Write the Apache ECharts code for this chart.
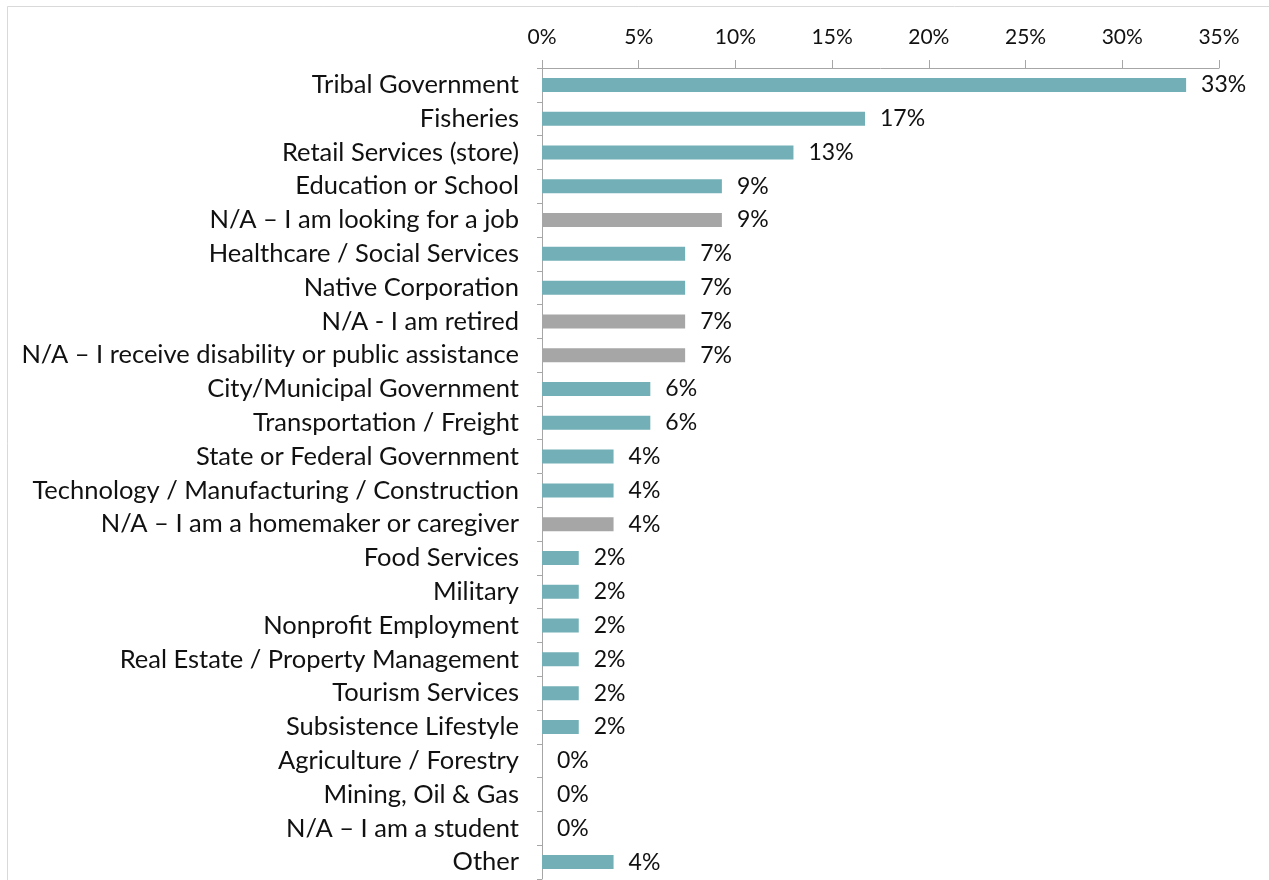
<!DOCTYPE html>
<html>
<head>
<meta charset="utf-8">
<script src="https://cdn.jsdelivr.net/npm/echarts@6/dist/echarts.min.js"></script>
<style>
html,body{margin:0;padding:0;background:#fff;}
#chart{width:1269px;height:880px;}
</style>
</head>
<body>
<div id="chart"></div>
<script>
const categories = [
  "Tribal Government",
  "Fisheries",
  "Retail Services (store)",
  "Education or School",
  "N/A \u2013 I am looking for a job",
  "Healthcare / Social Services",
  "Native Corporation",
  "N/A - I am retired",
  "N/A \u2013 I receive disability or public assistance",
  "City/Municipal Government",
  "Transportation / Freight",
  "State or Federal Government",
  "Technology / Manufacturing / Construction",
  "N/A \u2013 I am a homemaker or caregiver",
  "Food Services",
  "Military",
  "Nonprofit Employment",
  "Real Estate / Property Management",
  "Tourism Services",
  "Subsistence Lifestyle",
  "Agriculture / Forestry",
  "Mining, Oil & Gas",
  "N/A \u2013 I am a student",
  "Other"
];
const values = [33.3, 16.7, 13.0, 9.3, 9.3, 7.4, 7.4, 7.4, 7.4, 5.6, 5.6, 3.7, 3.7, 3.7, 1.9, 1.9, 1.9, 1.9, 1.9, 1.9, 0, 0, 0, 3.7];
const tickLabels = ["0%", "5%", "10%", "15%", "20%", "25%", "30%", "35%"];

const TEAL = "#73AFB6";
const GRAY = "#A6A6A6";
const FONT = "Lato";

const chart = echarts.init(document.getElementById("chart"), null, {renderer: "canvas"});
chart.setOption({
  animation: false,
  backgroundColor: "#fff",
  textStyle: {fontFamily: FONT},
  graphic: [{
    type: "rect",
    shape: {x: 7.5, y: 6.5, width: 1400, height: 1000},
    style: {fill: "none", stroke: "#D9D9D9", lineWidth: 1},
    silent: true, z: -1
  }],
  grid: {left: 542, right: 50, top: 68, bottom: 1, containLabel: false},
  xAxis: {
    type: "value",
    position: "top",
    min: 0, max: 35, interval: 5,
    axisLine: {show: true, lineStyle: {color: "#A6A6A6", width: 1}},
    axisTick: {show: true, length: 8, lineStyle: {color: "#A6A6A6"}},
    splitLine: {show: false},
    axisLabel: {
      margin: 20,
      color: "#111",
      fontSize: 21,
      fontFamily: FONT,
      formatter: function (v) { return tickLabels[Math.round(v / 5)]; }
    }
  },
  yAxis: {
    type: "category",
    inverse: true,
    data: categories,
    axisLine: {show: true, lineStyle: {color: "#A6A6A6", width: 1}},
    axisTick: {show: true, length: 5, interval: 0, lineStyle: {color: "#A6A6A6"}},
    axisLabel: {interval: 0, hideOverlap: false, margin: 23, color: "#111", fontSize: 25.5, fontFamily: FONT}
  },
  series: [{
    type: "bar",
    barWidth: 14,
    data: values.map((v, i) => ({
      value: v,
      itemStyle: {color: categories[i].startsWith("N/A") ? GRAY : TEAL}
    })),
    label: {
      show: true,
      position: "right",
      distance: 15,
      color: "#111",
      fontSize: 23,
      fontFamily: FONT,
      formatter: function (p) { return Math.round(p.value) + "%"; }
    }
  }]
});
</script>
</body>
</html>
